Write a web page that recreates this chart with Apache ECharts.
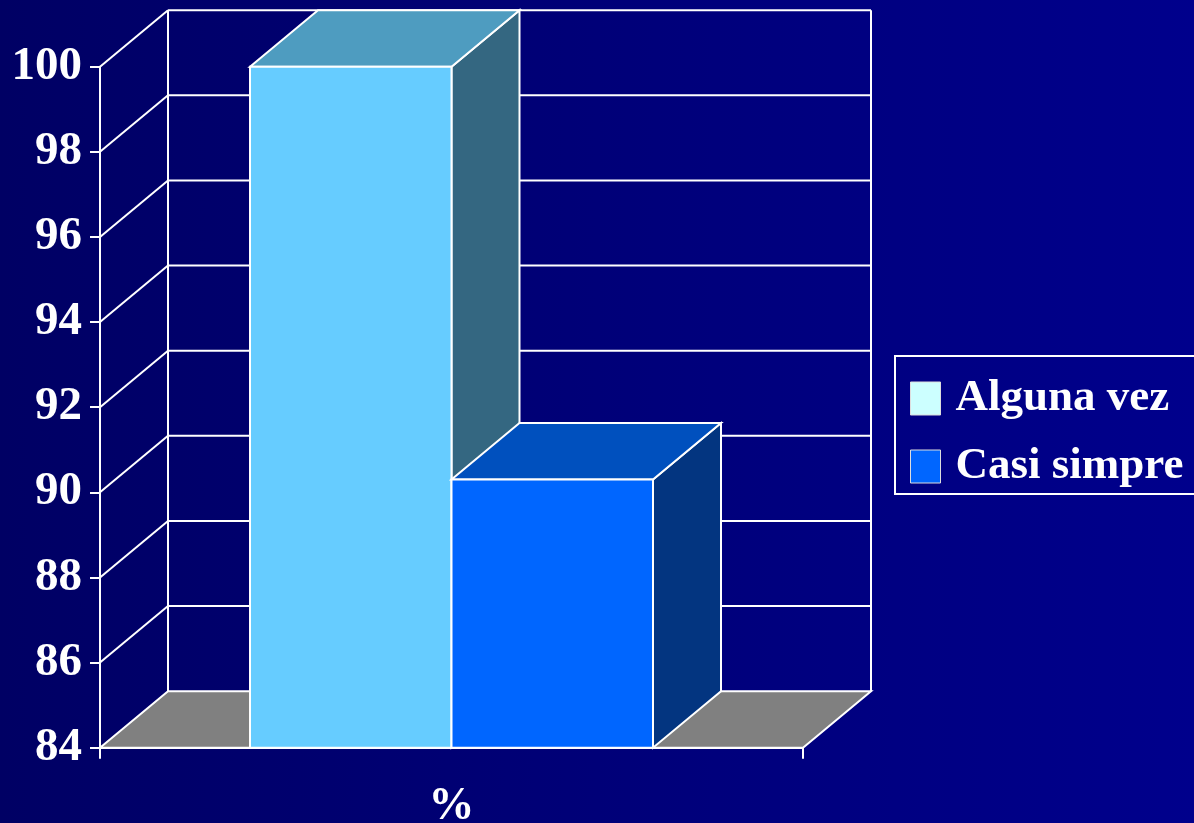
<!DOCTYPE html>
<html>
<head>
<meta charset="utf-8">
<script src="https://cdn.jsdelivr.net/npm/echarts@6/dist/echarts.min.js"></script>
<style>
html,body{margin:0;padding:0;width:1194px;height:823px;overflow:hidden;}
#chart{width:1194px;height:823px;}
</style>
</head>
<body>
<div id="chart"></div>
<script>
// ---- data ----
var categories = ['%'];
var seriesNames = ['Alguna vez', 'Casi simpre'];
var algunaVez = [100];
var casiSimpre = [90.3];
var yTicks = [84, 86, 88, 90, 92, 94, 96, 98, 100];

// ---- styles ----
var DX = 68, DY = -56.5;   // depth offset of the 3D box
var BAR_W = 201.5;
var FONT = '"Liberation Serif", "DejaVu Serif", serif';
var barColors = [
  {front: '#66CCFF', top: '#4E9CC0', side: '#346781'},
  {front: '#0066FF', top: '#0050BE', side: '#033580'}
];
var legendColors = ['#CCFFFF', '#0066FF'];

var chart = echarts.init(document.getElementById('chart'));

function frameRender(params, api) {
  var v = api.value(0);
  var p = api.coord([0, v]);
  var y = p[1];
  var bandW = api.size([1, 0])[0];
  var x0 = p[0] - bandW / 2, x1 = p[0] + bandW / 2;
  var line = {stroke: '#FFFFFF', lineWidth: 2};
  var children = [];
  if (params.dataIndex === 0) {
    var yTop = api.coord([0, yTicks[yTicks.length - 1]])[1];
    children.push({type: 'polygon', shape: {points: [[x0, y], [x1, y], [x1 + DX, y + DY], [x0 + DX, y + DY]]},
      style: {fill: '#808080', stroke: '#FFFFFF', lineWidth: 2}});
    children.push({type: 'line', shape: {x1: x0 + DX, y1: y + DY, x2: x0 + DX, y2: yTop + DY}, style: line});
    children.push({type: 'line', shape: {x1: x1 + DX, y1: y + DY, x2: x1 + DX, y2: yTop + DY}, style: line});
  } else {
    children.push({type: 'line', shape: {x1: x0, y1: y, x2: x0 + DX, y2: y + DY}, style: line});
    children.push({type: 'line', shape: {x1: x0 + DX, y1: y + DY, x2: x1 + DX, y2: y + DY}, style: line});
  }
  return {type: 'group', children: children};
}

function barRender(idx) {
  return function (params, api) {
    var top = api.coord([api.value(0), api.value(1)]);
    var base = api.coord([api.value(0), yTicks[0]]);
    var cx = top[0];
    var l = idx === 0 ? cx - BAR_W : cx;
    var r = l + BAR_W;
    var t = top[1], b = base[1];
    var c = barColors[idx];
    var st = {stroke: '#FFFFFF', lineWidth: 2};
    return {type: 'group', children: [
      {type: 'polygon', shape: {points: [[r, t], [r + DX, t + DY], [r + DX, b + DY], [r, b]]},
        style: Object.assign({fill: c.side}, st)},
      {type: 'polygon', shape: {points: [[l, t], [r, t], [r + DX, t + DY], [l + DX, t + DY]]},
        style: Object.assign({fill: c.top}, st)},
      {type: 'rect', shape: {x: l, y: t, width: BAR_W, height: b - t},
        style: Object.assign({fill: c.front}, st)}
    ]};
  };
}

var option = {
  backgroundColor: new echarts.graphic.LinearGradient(0, 0, 1, 0, [
    {offset: 0, color: '#000064'}, {offset: 1, color: '#00008C'}
  ]),
  animation: false,
  grid: {left: 100, right: 391, top: 66.7, bottom: 75.3, containLabel: false, outerBoundsMode: 'none'},
  legend: {
    orient: 'vertical',
    left: 895, top: 356,
    padding: [20, 20, 5, 15],
    itemWidth: 30, itemHeight: 33,
    itemGap: 23,
    borderColor: '#FFFFFF', borderWidth: 2,
    icon: 'rect',
    data: [
      {name: seriesNames[0], itemStyle: {color: legendColors[0], borderColor: '#DDDDDD', borderWidth: 1}},
      {name: seriesNames[1], itemStyle: {color: legendColors[1], borderColor: '#DDDDDD', borderWidth: 1}}
    ],
    textStyle: {color: '#FFFFFF', fontFamily: FONT, fontWeight: 'bold', fontSize: 45, lineHeight: 45, padding: [0, 0, 0, 10]}
  },
  xAxis: {
    type: 'category', data: categories,
    axisLine: {show: true, lineStyle: {color: '#FFFFFF', width: 2}},
    axisTick: {show: true, length: 11, lineStyle: {color: '#FFFFFF', width: 2}},
    axisLabel: {color: '#FFFFFF', fontFamily: FONT, fontWeight: 'bold', fontSize: 46, margin: 36},
    splitLine: {show: false}
  },
  yAxis: {
    type: 'value', min: 84, max: 100, interval: 2,
    axisLine: {show: true, lineStyle: {color: '#FFFFFF', width: 2}},
    axisTick: {show: true, length: 10, lineStyle: {color: '#FFFFFF', width: 2}},
    axisLabel: {color: '#FFFFFF', fontFamily: FONT, fontWeight: 'bold', fontSize: 47, margin: 18, padding: [6, 0, 0, 0]},
    splitLine: {show: false}
  },
  series: [
    {type: 'custom', name: 'frame', renderItem: frameRender, data: yTicks.map(function (v) { return [v]; }),
      encode: {y: 0}, z: 1, silent: true},
    {type: 'custom', name: seriesNames[0], renderItem: barRender(0),
      data: algunaVez.map(function (v, i) { return [i, v]; }), encode: {x: 0, y: 1}, z: 2,
      itemStyle: {color: legendColors[0]}},
    {type: 'custom', name: seriesNames[1], renderItem: barRender(1),
      data: casiSimpre.map(function (v, i) { return [i, v]; }), encode: {x: 0, y: 1}, z: 3,
      itemStyle: {color: legendColors[1]}}
  ]
};
chart.setOption(option);
</script>
</body>
</html>
